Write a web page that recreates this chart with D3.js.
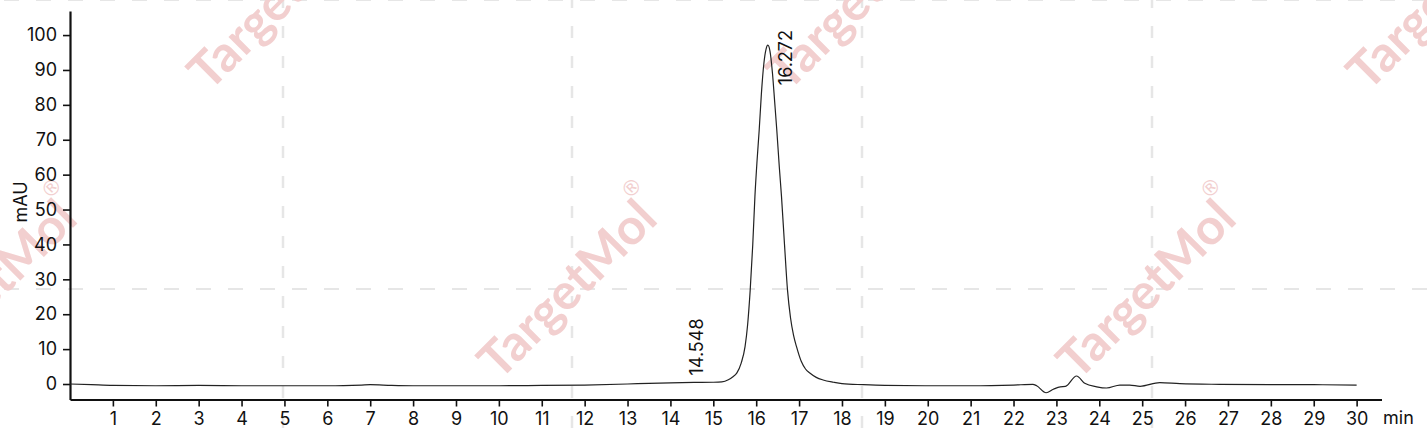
<!DOCTYPE html>
<html><head><meta charset="utf-8">
<script src="https://cdn.jsdelivr.net/npm/d3@7"></script>
<style>
html,body{margin:0;padding:0;background:#fff;}
svg{display:block;font-family:Inter, "Open Sans", sans-serif;}
</style></head>
<body><svg id="c" width="1427" height="444"></svg>
<script>
// ---- data ----
const rt = [0,0.5,1,2,3,4,5,6,6.8,7,7.5,8,9,10,11,12,13,13.5,14,14.548,15,15.2,15.35,15.45,15.55,15.65,15.74,15.8,15.86,15.92,15.97,16.02,16.07,16.12,16.18,16.23,16.272,16.32,16.38,16.43,16.48,16.54,16.59,16.66,16.73,16.8,16.87,16.94,17.05,17.15,17.25,17.4,17.56,17.8,18,18.5,19,20,21,22,22.45,22.54,22.76,22.93,23.09,23.21,23.47,23.66,23.94,24.17,24.48,24.71,24.95,25.41,25.88,26.81,28,29,30];
const mAU = [0,-0.2,-0.4,-0.5,-0.4,-0.5,-0.5,-0.5,-0.3,-0.2,-0.4,-0.5,-0.5,-0.5,-0.4,-0.3,0,0.2,0.35,0.45,0.5,0.6,1.2,2.0,3.2,6,10.7,17,26.9,40,53.7,64,72.8,83,92,96,97.1,95.5,89,81,72.8,62,53.7,40,26.9,19,14,10.7,6.5,4.3,3.15,1.9,1.15,0.5,0.1,-0.2,-0.4,-0.5,-0.5,-0.3,-0.1,-0.5,-2.5,-1.5,-0.8,-0.7,2.3,0.2,-0.8,-1.15,-0.3,-0.3,-0.65,0.4,0.1,-0.1,-0.2,-0.2,-0.3];
const peakTimes = [14.548, 16.272];
const peakLabels = ["14.548", "16.272"];
const xTicks = d3.range(1, 31);
const yTicks = d3.range(0, 101, 10);
const xLabel = "min", yLabel = "mAU";

// ---- layout ----
const svg = d3.select("#c");
const W = 1427, H = 444;
const x = d3.scaleLinear().domain([0, 30.58]).range([70, 1381.5]);
const y = d3.scaleLinear().domain([-4.44, 106.9]).range([399.5, 11]);

// ---- watermark ----
const wm = svg.append("g");
const gridCol = "#e6e6e6";
[-7, 283, 572, 862, 1152, 1442].forEach(vx => {
  wm.append("line").attr("x1", vx).attr("x2", vx).attr("y1", 0).attr("y2", H)
    .attr("stroke", gridCol).attr("stroke-width", 2.5).attr("stroke-dasharray", "12,18").attr("stroke-dashoffset", 4);
});
[0, 289].forEach(hy => {
  wm.append("line").attr("x1", 0).attr("x2", W).attr("y1", hy).attr("y2", hy)
    .attr("stroke", gridCol).attr("stroke-width", 2).attr("stroke-dasharray", "15,17").attr("stroke-dashoffset", -4);
});
const marks = [];
for (let r = 0; r < 2; r++) for (let c = 0; c < 6; c++) if ((c + r) % 2 === 1) marks.push([-7 + 290 * c - (c>=3? 1:0), 289 * r]);
marks.forEach(([cx, cy]) => {
  const g = wm.append("g").attr("transform", `translate(${cx - 6},${cy}) rotate(-45)`);
  g.append("text").attr("text-anchor", "middle").attr("dy", "0.35em")
    .attr("font-family", "Lato, 'DejaVu Sans', sans-serif").attr("font-weight", 700).attr("font-size", 50)
    .attr("fill", "#f2cfcf").text("TargetMol");
  g.append("text").attr("x", 117).attr("y", -26).attr("dy", "0.35em").attr("text-anchor", "middle")
    .attr("font-family", "'DejaVu Sans', sans-serif").attr("font-size", 21)
    .attr("fill", "#f2cfcf").text("®");
});

// ---- axes ----
const fs = 18;
const xAxis = svg.append("g").attr("transform", `translate(0,${y.range()[0]})`)
  .call(d3.axisBottom(x).tickValues(xTicks).tickFormat(d3.format("d")).tickSize(7).tickSizeOuter(0));
const yAxis = svg.append("g").attr("transform", `translate(${x.range()[0]},0)`)
  .call(d3.axisLeft(y).tickValues(yTicks).tickFormat(d3.format("d")).tickSize(7).tickSizeOuter(0));
[xAxis, yAxis].forEach(a => {
  a.select(".domain").attr("stroke", "#111").attr("stroke-width", 2.2);
  a.selectAll(".tick line").attr("stroke", "#111").attr("stroke-width", 1.6);
  a.selectAll(".tick text").attr("fill", "#111").attr("font-size", fs).attr("font-family", "Inter, sans-serif");
});
xAxis.selectAll(".tick text").attr("dy", "0.95em").attr("y", 8);
yAxis.selectAll(".tick text").attr("x", -13);

svg.append("text").attr("x", 1383).attr("y", 424).attr("font-size", fs).attr("fill", "#111").text(xLabel);
svg.append("text").attr("transform", `translate(27,${202}) rotate(-90)`).attr("text-anchor", "middle")
  .attr("font-size", fs).attr("fill", "#111").text(yLabel);

// ---- trace ----
const line = d3.line().x((d, i) => x(rt[i])).y((d, i) => y(mAU[i])).curve(d3.curveMonotoneX);
svg.append("path").datum(mAU).attr("d", line).attr("fill", "none").attr("stroke", "#222").attr("stroke-width", 1.2);

// ---- peak labels ----
const valAt = t => { const i = d3.bisectLeft(rt, t); return mAU[Math.min(i, mAU.length - 1)]; };
const labelShift = [[9, -7], [24, 40]];
peakTimes.forEach((t, i) => {
  const lx = x(t) + labelShift[i][0], ly = y(valAt(t)) + labelShift[i][1];
  svg.append("text").attr("transform", `translate(${lx},${ly}) rotate(-90)`)
    .attr("font-size", fs).attr("fill", "#111").text(peakLabels[i]);
});
</script></body></html>
